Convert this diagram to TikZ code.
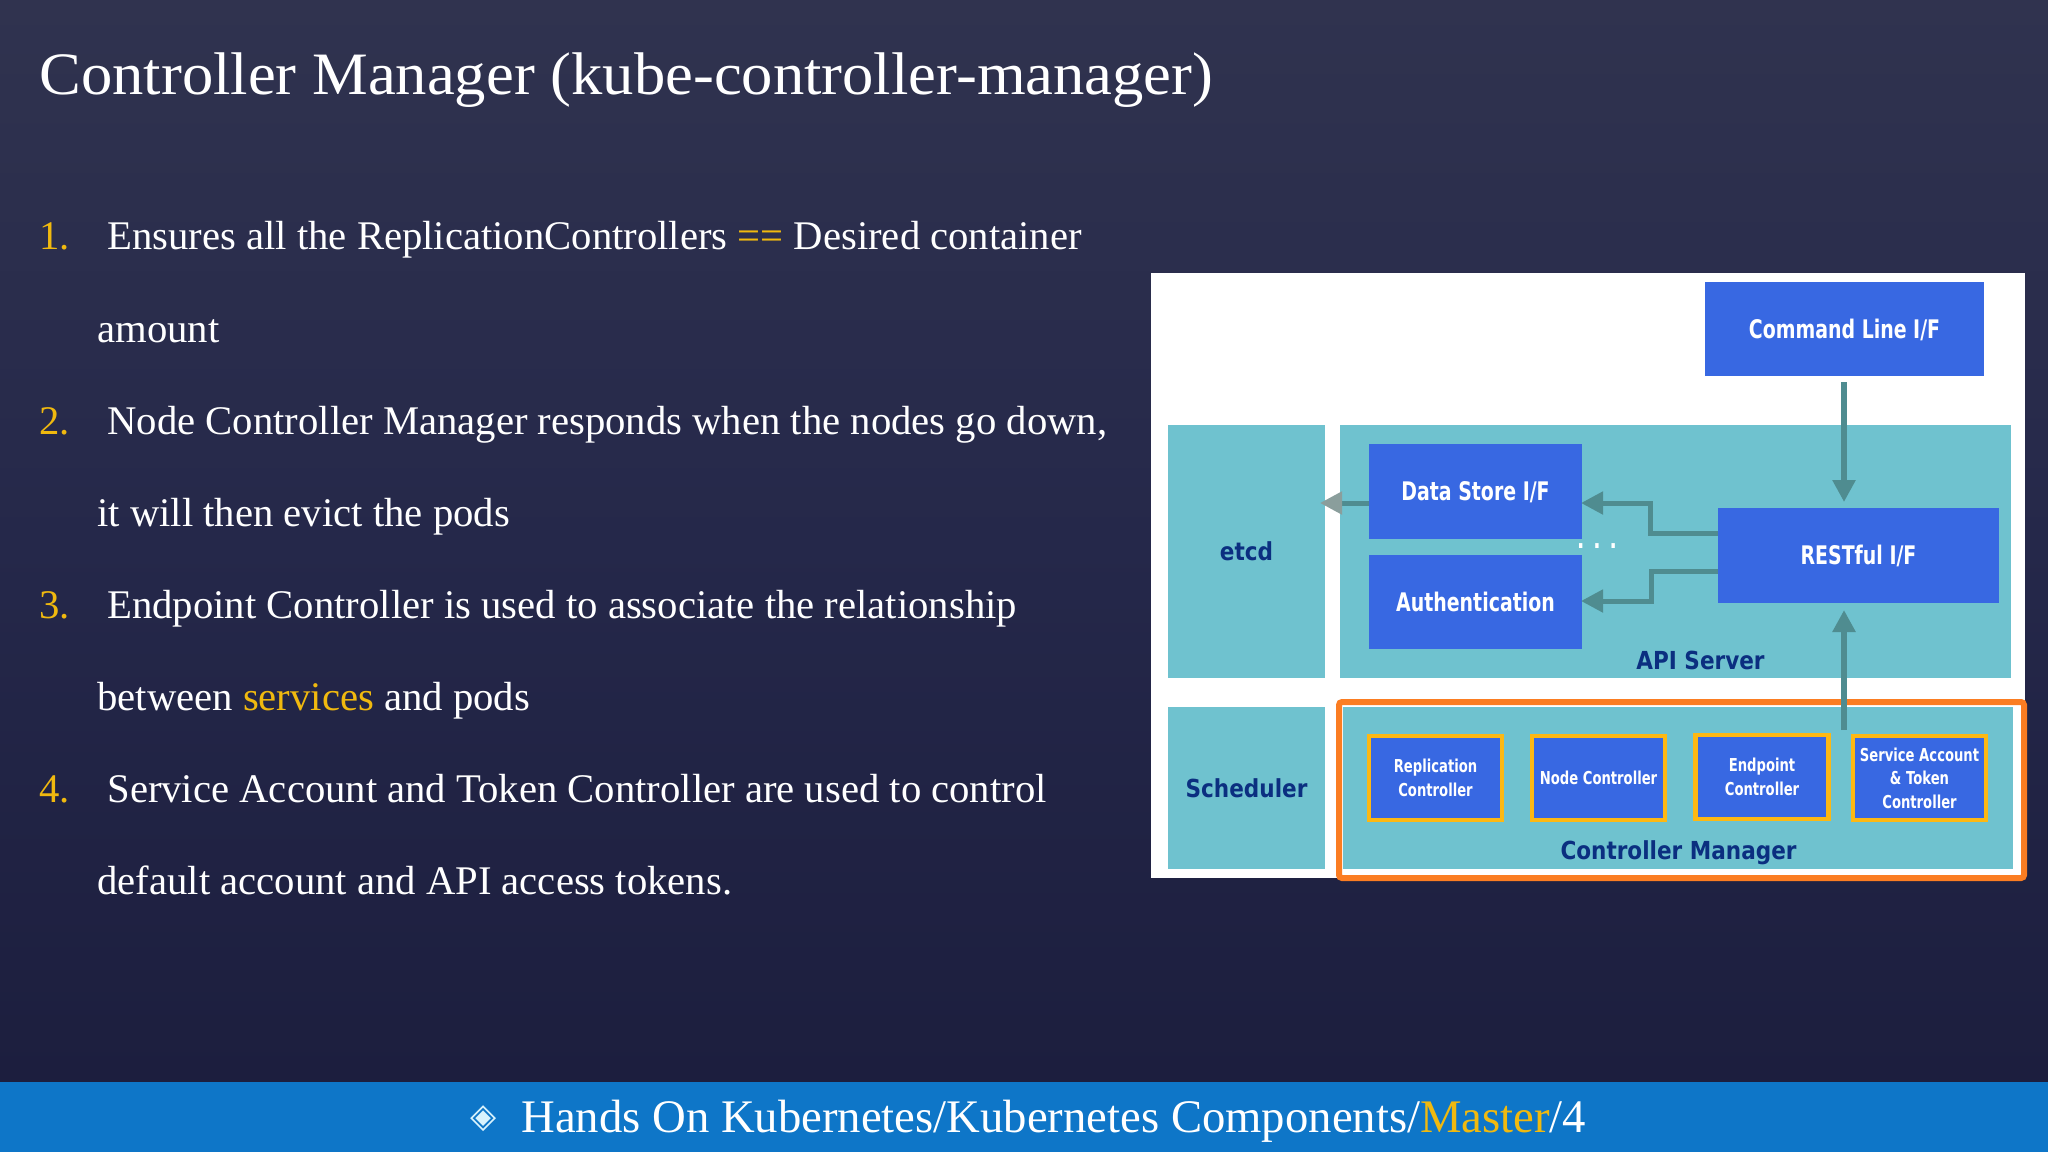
\documentclass[tikz,border=0pt]{standalone}
\usepackage{fontspec}
\usetikzlibrary{arrows.meta,positioning}
\setmainfont{Liberation Serif}
\newfontfamily\diagfont[FakeStretch=0.74]{DejaVu Sans}
\newfontfamily\widefont[FakeStretch=0.87]{DejaVu Sans}
\newfontfamily\titlefont[FakeStretch=1.04]{Liberation Serif}
\newfontfamily\symbolfont{DejaVu Sans}
\definecolor{slatetop}{HTML}{30334F}
\definecolor{slatemid}{HTML}{25284A}
\definecolor{slatelow}{HTML}{1C1E3E}
\definecolor{footerblue}{HTML}{0E76C8}
\definecolor{slideyellow}{HTML}{F0B90F}
\definecolor{panelteal}{HTML}{6FC2CF}
\definecolor{boxblue}{HTML}{3868E2}
\definecolor{labelnavy}{HTML}{0B2F80}
\definecolor{linkteal}{HTML}{4F8C90}
\definecolor{linkgrey}{HTML}{8A9E9C}
\definecolor{ringorange}{HTML}{FB7D22}
\definecolor{ringyellow}{HTML}{FDB813}
\begin{document}
\begin{tikzpicture}[x=0.5pt,y=-0.5pt,>={Triangle[length=11pt,width=11pt]}]
            \tikzstyle{slideline}=[anchor=base west,inner sep=0pt,white,font=\fontsize{20.34}{24}\selectfont]
            \tikzstyle{slidenum}=[slideline,slideyellow]
            \tikzstyle{panellabel}=[inner sep=0pt,text=labelnavy,font=\widefont\bfseries\fontsize{12.4}{14}\selectfont]
            \tikzstyle{panel}=[panellabel,fill=panelteal,outer sep=0pt]
            \tikzstyle{blockbox}=[fill=boxblue,inner sep=0pt,outer sep=0pt,text=white,align=center]
            \tikzstyle{mainbox}=[blockbox,text height=9.3pt,text depth=0pt,font=\diagfont\bfseries\fontsize{12.8}{15}\selectfont]
            \tikzstyle{ctrlbox}=[blockbox,draw=ringyellow,line width=2.4pt,minimum width=66.5pt,minimum height=42pt,font=\diagfont\bfseries\fontsize{8.9}{11.8}\selectfont]
            \tikzstyle{flow}=[->,linkteal,line width=3pt]
            \tikzstyle{branch}=[->,linkteal,line width=2.5pt]

            % Slide background and footer
            \useasboundingbox (0,0) rectangle (2048,1152);
            \fill[top color=slatetop,bottom color=slatelow,middle color=slatemid] (0,0) rectangle (2048,1082);
            \fill[footerblue] (0,1082) rectangle (2048,1152);

            % Title and list
            \node[slideline,font=\titlefont\fontsize{30.1}{34}\selectfont] (title) at (39,94) {Controller Manager (kube-controller-manager)};
            \node[slidenum] (num1) at (39,249) {1.};
            \node[slideline] (line1) at (107,249) {Ensures all the ReplicationControllers \textcolor{slideyellow}{==} Desired container};
            \node[slideline] (line1b) at (97,342) {amount};
            \node[slidenum] (num2) at (39,434) {2.};
            \node[slideline] (line2) at (107,434) {Node Controller Manager responds when the nodes go down,};
            \node[slideline] (line2b) at (97,526) {it will then evict the pods};
            \node[slidenum] (num3) at (39,618) {3.};
            \node[slideline] (line3) at (107,618) {Endpoint Controller is used to associate the relationship};
            \node[slideline] (line3b) at (97,710) {between \textcolor{slideyellow}{services} and pods};
            \node[slidenum] (num4) at (39,802) {4.};
            \node[slideline] (line4) at (107,802) {Service Account and Token Controller are used to control};
            \node[slideline] (line4b) at (97,894) {default account and API access tokens.};

            % Footer text
            \node[inner sep=0pt,text=white!85!cyan,font=\symbolfont\fontsize{17}{19}\selectfont] (mark) at (484,1119) {◈};
            \node[slideline,font=\fontsize{23.35}{26}\selectfont] (crumbs) at (521,1132) {Hands On Kubernetes/Kubernetes Components/\textcolor{slideyellow}{Master}/4};

            % White panel
            \node[fill=white,inner sep=0pt,outer sep=0pt,minimum width=437pt,minimum height=302.5pt] (sheet) at (1588,575.5) {};

            % Teal areas
            \node[panel,minimum width=78.5pt,minimum height=126.5pt] (etcd) at (1246.5,551.5) {etcd};
            \node[panel,minimum width=335.5pt,minimum height=126.5pt] (api) at (1675.5,551.5) {};
            \node[panel,minimum width=78.5pt,minimum height=81pt] (scheduler) at (1246.5,788) {Scheduler};
            \node[panel,minimum width=335pt,minimum height=81pt] (manager) at (1678,788) {};
            \node[panellabel] (apilabel) at (1700.5,660) {API Server};
            \node[panellabel] (managerlabel) at (1678.5,853) {Controller Manager};

            % Blue blocks
            \node[mainbox,minimum width=139.5pt,minimum height=47pt] (cli) at (1844.5,329) {Command Line I/F};
            \node[mainbox,minimum width=140.5pt,minimum height=47.5pt] (restful) at (1858.5,555.5) {RESTful I/F};
            \node[mainbox,minimum width=106.5pt,minimum height=47.5pt] (datastore) at (1475.5,491.5) {Data Store I/F};
            \node[mainbox,minimum width=106.5pt,minimum height=47pt] (auth) at (1475.5,602) {Authentication};
            \node[anchor=base,inner sep=0pt,white,font=\diagfont\bfseries\fontsize{13}{13}\selectfont] (dots) at (1597,548) {. . .};

            % Controllers
            \node[ctrlbox] (replication) at (1435.5,778) {Replication\\Controller};
            \node[ctrlbox] (nodectrl) at (1598.5,778) {Node Controller};
            \node[ctrlbox] (endpoint) at (1762,777) {Endpoint\\Controller};
            \node[ctrlbox] (account) at (1919.5,778) {Service Account\\\& Token\\Controller};

            % Orange frame
            \draw[ringorange,line width=3pt,rounded corners=1.5pt] (1339,702) rectangle (2024,878);

            % Connector ends
            \coordinate (restA) at (1718,533);
            \coordinate (restB) at (1718,571);
            \coordinate (storeIn) at (1581,503);
            \coordinate (authIn) at (1581,601);
            \coordinate (storeOut) at (1369,503);
            \coordinate (etcdIn) at (1320,503);
            \coordinate (cliOut) at (1844,382);
            \coordinate (restTop) at (1844,502);
            \coordinate (restLow) at (1844,610);
            \coordinate (managerOut) at (1844,730);

            % Connectors
            \draw[flow] (cliOut) -- (restTop);
            \draw[flow] (managerOut) -- (restLow);
            \draw[branch] (restA) -| (1650,503) -- (storeIn);
            \draw[branch] (restB) -| (1651,601) -- (authIn);
            \draw[branch,shorten >=8pt,-] (storeOut) -- (etcdIn);
            \draw[->,linkgrey,line width=2.5pt] (1340,503) -- (etcdIn);
        \end{tikzpicture}
\end{document}
